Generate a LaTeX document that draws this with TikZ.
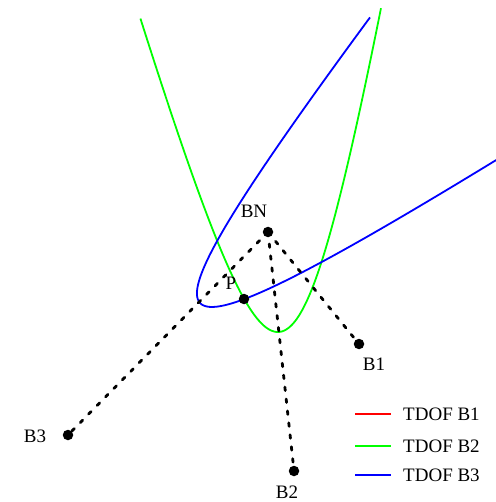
\documentclass[tikz,border=0pt]{standalone}
\usepackage{fontspec}
\setmainfont{Liberation Serif}

\begin{document}
\begin{tikzpicture}[x=1pt, y=-1pt,
    dot/.style={circle, fill=black, inner sep=0pt, minimum size=10.5pt},
    lbl/.style={font=\fontsize{19}{22}\selectfont, inner sep=0pt},
    ray/.style={line width=2.8pt, line cap=round, dash pattern=on 3.5pt off 8.5pt},
    curve/.style={line width=1.8pt},
    key/.style={line width=1.3pt}]
  \useasboundingbox (0,0) rectangle (495,502);

  % stations and the point found
  \coordinate (bn) at (268,232);
  \coordinate (b1) at (359,344);
  \coordinate (b2) at (294,471);
  \coordinate (b3) at (68,435);
  \coordinate (p)  at (244,299);

  % TDOF curves
  \draw[curve, green] plot[domain=-1.41:1.405, samples=120, variable=\t]
    ({293.7 - 274*cosh(\t)*0.055 + 62.7*sinh(\t)*0.9985},
     {605.6 - 274*cosh(\t)*0.9985 - 62.7*sinh(\t)*0.055});
  \draw[curve, blue] plot[domain=-1.252:1.25, samples=120, variable=\t]
    ({-63.1 + 357*cosh(\t)*0.737 + 59.5*sinh(\t)*0.676},
     {544.3 - 357*cosh(\t)*0.676 + 59.5*sinh(\t)*0.737});

  \draw[ray] (bn) -- (b1);
  \draw[ray] (bn) -- (b2);
  \draw[ray] (bn) -- (b3);

  \node[dot] (bnDot) at (bn) {};
  \node[dot] (b1Dot) at (b1) {};
  \node[dot] (b2Dot) at (b2) {};
  \node[dot] (b3Dot) at (b3) {};
  \node[dot] (pDot)  at (p)  {};

  \node[lbl] (bnLbl) at (254,211) {BN};
  \node[lbl] (pLbl)  at (231,283) {P};
  \node[lbl] (b1Lbl) at (374,364) {B1};
  \node[lbl] (b2Lbl) at (287,492) {B2};
  \node[lbl] (b3Lbl) at (35,436)  {B3};

  % legend
  \draw[key, red]   (355,414) -- (391,414);
  \draw[key, green] (355,446) -- (391,446);
  \draw[key, blue]  (355,475) -- (391,475);
  \node[lbl, anchor=west] (keyB1) at (403,414) {TDOF B1};
  \node[lbl, anchor=west] (keyB2) at (403,446) {TDOF B2};
  \node[lbl, anchor=west] (keyB3) at (403,475) {TDOF B3};
\end{tikzpicture}
\end{document}
